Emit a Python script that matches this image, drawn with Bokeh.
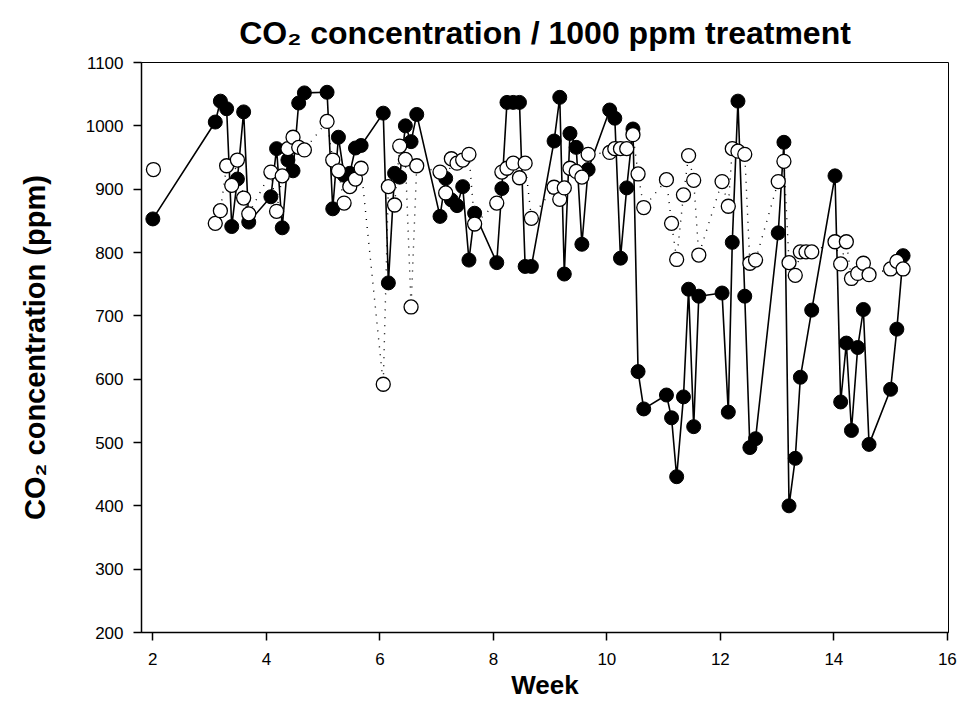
from bokeh.plotting import figure
from bokeh.models import Range1d, FixedTicker, ColumnDataSource
from bokeh.embed import file_html
from bokeh.resources import INLINE

# ---- data ----
black_week = [2.00,
              3.10, 3.19, 3.30, 3.39, 3.49, 3.60, 3.69,
              4.08, 4.18, 4.28, 4.38, 4.47, 4.57, 4.67,
              5.07, 5.17, 5.27, 5.37, 5.47, 5.57, 5.67,
              6.06, 6.15, 6.26, 6.35, 6.45, 6.55, 6.65,
              7.06, 7.16, 7.26, 7.36, 7.46, 7.57, 7.67,
              8.06, 8.15, 8.24, 8.35, 8.46, 8.56, 8.67,
              9.07, 9.17, 9.25, 9.35, 9.46, 9.56, 9.67,
              10.05, 10.14, 10.24, 10.35, 10.46, 10.55, 10.65,
              11.05, 11.14, 11.23, 11.35, 11.44, 11.53, 11.62,
              12.03, 12.14, 12.21, 12.31, 12.43, 12.52, 12.62,
              13.02, 13.12, 13.21, 13.32, 13.41, 13.61,
              14.02, 14.12, 14.22, 14.31, 14.42, 14.52, 14.62,
              15.00, 15.11, 15.22]
black_ppm = [853,
             1006, 1039, 1027, 841, 916, 1022, 848,
             888, 964, 839, 946, 929, 1036, 1052,
             1053, 869, 982, 922, 925, 965, 969,
             1020, 752, 925, 919, 1000, 975, 1018,
             857, 917, 883, 874, 904, 788, 862,
             784, 901, 1037, 1037, 1037, 778, 778,
             976, 1045, 766, 988, 966, 813, 931,
             1025, 1012, 791, 902, 995, 612, 553,
             575, 539, 446, 572, 742, 525, 731,
             736, 548, 816, 1039, 731, 492, 506,
             831, 974, 400, 475, 603, 709,
             921, 564, 657, 519, 650, 710, 497,
             584, 679, 795]

white_week = [2.01,
              3.10, 3.19, 3.30, 3.39, 3.49, 3.60, 3.69,
              4.08, 4.18, 4.28, 4.38, 4.47, 4.57, 4.67,
              5.07, 5.17, 5.27, 5.37, 5.47, 5.57, 5.67,
              6.06, 6.15, 6.26, 6.35, 6.45, 6.55, 6.65,
              7.06, 7.16, 7.26, 7.36, 7.46, 7.57, 7.67,
              8.06, 8.15, 8.24, 8.35, 8.46, 8.56, 8.67,
              9.07, 9.17, 9.25, 9.35, 9.46, 9.56, 9.67,
              10.05, 10.14, 10.24, 10.35, 10.46, 10.55, 10.65,
              11.05, 11.14, 11.23, 11.35, 11.44, 11.53, 11.62,
              12.03, 12.14, 12.21, 12.31, 12.43, 12.52, 12.62,
              13.02, 13.12, 13.21, 13.32, 13.41, 13.51, 13.61,
              14.02, 14.12, 14.22, 14.31, 14.42, 14.52, 14.62,
              15.00, 15.11, 15.22]
white_ppm = [931,
             846, 866, 937, 906, 946, 886, 861,
             927, 865, 921, 964, 982, 966, 962,
             1007, 946, 929, 878, 904, 916, 933,
             592, 904, 875, 968, 947, 714, 937,
             927, 894, 948, 941, 946, 955, 845,
             878, 927, 933, 941, 918, 941, 854,
             903, 884, 902, 933, 928, 919, 955,
             958, 964, 964, 964, 986, 924, 871,
             915, 846, 789, 891, 953, 914, 796,
             912, 873, 964, 960, 955, 783, 788,
             912, 944, 784, 764, 801, 801, 801,
             817, 782, 817, 759, 767, 783, 765,
             774, 786, 774]

x_ticks = [2, 4, 6, 8, 10, 12, 14, 16]
y_ticks = [200, 300, 400, 500, 600, 700, 800, 900, 1000, 1100]
title_text = "CO\u2082 concentration / 1000 ppm treatment"

FONT = "Liberation Sans"

p = figure(width=962, height=714, output_backend="svg", toolbar_location=None,
           x_range=Range1d(1.80, 16.02), y_range=Range1d(200, 1100),
           min_border_left=141, min_border_right=14,
           min_border_top=62, min_border_bottom=82)

p.title.text = title_text
p.title.align = "center"
p.title.vertical_align = "top"
p.title.text_font = FONT
p.title.text_font_style = "bold"
p.title.text_font_size = "32px"
p.title.text_color = "black"
p.title.text_line_height = 0.7
p.title.standoff = 20

p.xgrid.visible = False
p.ygrid.visible = False
p.outline_line_color = "black"
p.outline_line_width = 1
p.background_fill_color = "white"
p.border_fill_color = "white"

for ax in (p.xaxis[0], p.yaxis[0]):
    ax.axis_line_color = "black"
    ax.axis_line_width = 1.5
    ax.major_tick_line_color = "black"
    ax.major_tick_line_width = 1.5
    ax.major_tick_in = 0
    ax.major_tick_out = 8
    ax.minor_tick_line_color = None
    ax.major_label_text_font = FONT
    ax.major_label_text_font_size = "17px"
    ax.major_label_text_color = "black"
    ax.axis_label_text_font = FONT
    ax.axis_label_text_font_style = "bold"
    ax.axis_label_text_color = "black"

p.xaxis[0].ticker = FixedTicker(ticks=x_ticks)
p.yaxis[0].ticker = FixedTicker(ticks=y_ticks)
p.xaxis[0].axis_label = "Week"
p.yaxis[0].axis_label = "CO\u2082 concentration (ppm)"
p.xaxis[0].axis_label_text_font_size = "26px"
p.yaxis[0].axis_label_text_font_size = "29px"
p.xaxis[0].major_label_standoff = 12
p.yaxis[0].major_label_standoff = 10
p.xaxis[0].axis_label_standoff = 2
p.yaxis[0].axis_label_standoff = 32

black_src = ColumnDataSource(dict(week=black_week, ppm=black_ppm))
white_src = ColumnDataSource(dict(week=white_week, ppm=white_ppm))
white_line_src = ColumnDataSource(dict(week=white_week[1:], ppm=white_ppm[1:]))

p.line("week", "ppm", source=black_src, line_color="black", line_width=1.6)
p.scatter("week", "ppm", source=black_src, size=14, marker="circle",
          fill_color="black", line_color="black", line_width=1)
p.line("week", "ppm", source=white_line_src, line_color="black",
       line_width=1.4, line_dash="1 7")
p.scatter("week", "ppm", source=white_src, size=14, marker="circle",
          fill_color="white", line_color="black", line_width=1.3)

open("out.html", "w").write(file_html(p, INLINE))
